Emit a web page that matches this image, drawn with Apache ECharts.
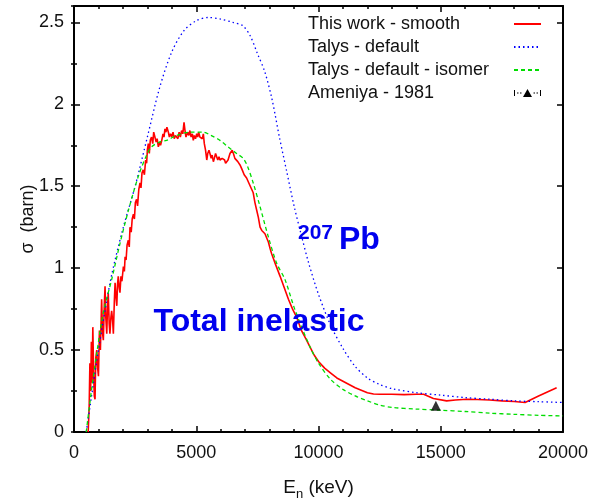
<!DOCTYPE html>
<html><head><meta charset="utf-8">
<script src="https://cdn.jsdelivr.net/npm/echarts@6/dist/echarts.min.js"></script>
<style>html,body{margin:0;padding:0;background:#fff}#c{width:592px;height:501px}</style>
</head><body><div id="c"></div>
<script>
// ---- data ----
const seriesNames = ['This work - smooth', 'Talys - default', 'Talys - default - isomer', 'Ameniya - 1981'];
const xTickValues = [0, 5000, 10000, 15000, 20000];
const yTickValues = [0, 0.5, 1, 1.5, 2, 2.5];

// This work - smooth (red)
const workE = [580,620,650,680,710,740,770,800,830,860,890,930,960,1000,1040,1080,1130,1170,1200,1240,1270,1300,1340,1370,1400,1440,1470,1510,1540,1580,1610,1650,1680,1720,1750,1780,1810,1850,1880,1920,1960,2020,2060,2090,2130,2170,2220,2260,2290,2340,2380,2430,2470,2510,2560,2600,2650,2700,2740,2780,2830,2880,2930,2970,3000,3040,3080,3120,3170,3220,3260,3310,3360,3400,3450,3500,3540,3590,3640,3680,3720,3760,3800,3860,3900,3950,4000,4050,4100,4150,4200,4250,4300,4350,4400,4450,4500,4540,4580,4610,4650,4700,4740,4790,4840,4880,4920,4970,5020,5060,5100,5150,5200,5250,5290,5330,5380,5430,5470,5520,5560,5610,5650,5700,5740,5790,5830,5880,5930,5970,6020,6060,6110,6160,6200,6250,6300,6340,6380,6430,6470,6520,6580,6640,6700,6790,6880,6960,7060,7150,7270,7330,7400,7470,7540,7610,7680,7740,7810,7880,7950,8020,8080,8250,8430,8600,8770,8940,9110,9300,9480,9650,9820,10000,10250,10500,10750,11000,11250,11500,11750,12000,12250,12500,13000,13500,14000,14300,14700,15240,15600,16060,16500,17000,17500,18000,18450,19000,19740];
const workS = [0.00,0.15,0.42,0.25,0.55,0.30,0.64,0.38,0.22,0.20,0.45,0.50,0.40,0.34,0.62,0.50,0.81,0.60,0.56,0.78,0.89,0.70,0.60,0.76,0.85,0.66,0.60,0.70,0.74,0.68,0.60,0.80,0.91,0.82,0.77,0.90,0.95,0.88,0.85,0.95,0.92,1.01,0.98,1.07,1.05,1.14,1.17,1.13,1.25,1.22,1.30,1.33,1.30,1.40,1.42,1.38,1.48,1.52,1.49,1.58,1.60,1.57,1.66,1.64,1.72,1.76,1.70,1.78,1.80,1.76,1.83,1.82,1.77,1.79,1.74,1.77,1.75,1.78,1.82,1.80,1.85,1.83,1.86,1.83,1.80,1.82,1.80,1.83,1.79,1.81,1.82,1.79,1.83,1.80,1.84,1.82,1.89,1.84,1.80,1.80,1.83,1.81,1.84,1.80,1.82,1.78,1.81,1.79,1.82,1.80,1.83,1.80,1.81,1.79,1.82,1.76,1.72,1.66,1.70,1.72,1.70,1.67,1.69,1.65,1.67,1.70,1.69,1.66,1.68,1.66,1.65,1.67,1.68,1.66,1.64,1.63,1.66,1.68,1.70,1.71,1.72,1.70,1.67,1.66,1.65,1.63,1.60,1.57,1.55,1.52,1.48,1.46,1.40,1.355,1.31,1.25,1.23,1.22,1.21,1.20,1.16,1.12,1.09,1.02,0.95,0.88,0.81,0.75,0.70,0.62,0.57,0.52,0.47,0.43,0.39,0.36,0.33,0.31,0.29,0.27,0.255,0.24,0.232,0.23,0.23,0.228,0.23,0.23,0.205,0.19,0.195,0.20,0.198,0.195,0.19,0.186,0.18,0.22,0.27];

// Talys - default (blue dotted)
const talysE = [500,700,1000,1500,2000,2500,3000,3500,4000,4500,5000,5500,6000,6500,6900,7200,7500,7800,8100,8400,8700,9000,9300,9600,10000,10500,11000,11500,12000,12500,13000,14000,15000,16000,17000,18000,19000,20000];
const talysS = [0,0.20,0.50,0.93,1.24,1.50,1.80,2.10,2.32,2.45,2.51,2.53,2.52,2.50,2.48,2.42,2.31,2.20,2.03,1.80,1.59,1.38,1.20,1.03,0.84,0.65,0.51,0.40,0.33,0.29,0.265,0.24,0.225,0.21,0.20,0.19,0.185,0.18];

// Talys - default - isomer (green dashed)
const isoE = [500,720,930,1200,1540,1880,2220,2630,2970,3170,3500,3790,4200,4740,5290,5600,5970,6300,6650,6920,7100,7330,7610,7950,8290,8630,9040,9650,10000,10500,11000,11500,12000,12500,13000,14000,15000,16000,17000,18000,19000,20000];
const isoS = [0,0.26,0.48,0.73,0.93,1.15,1.35,1.56,1.69,1.74,1.77,1.78,1.81,1.83,1.83,1.81,1.78,1.74,1.70,1.67,1.62,1.52,1.375,1.19,1.03,0.93,0.745,0.52,0.42,0.32,0.26,0.22,0.19,0.165,0.15,0.14,0.133,0.125,0.115,0.108,0.102,0.098];

// Ameniya - 1981 (black triangle)
const ameE = [14800];
const ameS = [0.16];

// ---- chart ----
const zip = (a, b) => a.map((v, i) => [v, b[i]]);
const FONT = 'Liberation Sans, Arial, sans-serif';
const chart = echarts.init(document.getElementById('c'), null, {renderer: 'canvas'});

const xBase = {type: 'value', min: 0, max: 20000, interval: 5000, splitLine: {show: false},
  axisLine: {show: true, onZero: false, lineStyle: {color: '#000', width: 2}},
  axisTick: {show: true, inside: true, length: 6, lineStyle: {color: '#000', width: 1.5}},
  minorTick: {show: true, splitNumber: 5, length: 3, lineStyle: {color: '#000', width: 1.5}}};
const yMajor = {type: 'value', min: 0, max: 2.6, interval: 0.5, splitLine: {show: false},
  axisLine: {show: true, onZero: false, lineStyle: {color: '#000', width: 2}},
  axisTick: {show: true, inside: true, length: 6, lineStyle: {color: '#000', width: 1.5}}};
const yMinor = {type: 'value', min: 0, max: 2.6, interval: 0.25, splitLine: {show: false},
  axisLine: {show: false}, axisLabel: {show: false},
  axisTick: {show: true, inside: true, length: 3, lineStyle: {color: '#000', width: 1.5}}};

chart.setOption({
  animation: false,
  backgroundColor: '#fff',
  textStyle: {fontFamily: FONT},
  grid: {left: 74, top: 6, right: 29, bottom: 69, containLabel: false, outerBoundsMode: 'none'},
  legend: {
    orient: 'vertical', left: 308, top: 15, padding: 0, itemGap: 5,
    itemWidth: 27, itemHeight: 9, align: 'right', selectedMode: false,
    itemStyle: {opacity: 0},
    formatter: '{t|{name}}',
    textStyle: {fontFamily: FONT, fontSize: 18, color: '#111',
      rich: {t: {width: 201, align: 'left', fontSize: 18, lineHeight: 18, fontFamily: FONT, color: '#111'}}},
    data: [
      {name: seriesNames[0]}, {name: seriesNames[1]}, {name: seriesNames[2]},
      {name: seriesNames[3], itemStyle: {opacity: 1, color: '#000'},
        icon: 'path://M0,2L1,2L1,8L0,8Z M3,4.5L4.5,4.5L4.5,5.5L3,5.5Z M6,4.5L7.5,4.5L7.5,5.5L6,5.5Z M9,9L13.5,1L18,9Z M19.5,4.5L21,4.5L21,5.5L19.5,5.5Z M22.5,4.5L24,4.5L24,5.5L22.5,5.5Z M26,2L27,2L27,8L26,8Z'}
    ]
  },
  xAxis: [
    Object.assign({}, xBase, {position: 'bottom',
      axisLabel: {show: true, margin: 12, fontSize: 18, color: '#111', fontFamily: FONT,
        customValues: xTickValues, formatter: v => String(v)},
      name: '{e|E}{n|n}{e| (keV)}', nameLocation: 'middle', nameGap: 43,
      nameTextStyle: {rich: {
        e: {fontSize: 19, lineHeight: 26, verticalAlign: 'middle', color: '#111', fontFamily: FONT},
        n: {fontSize: 13, lineHeight: 13, verticalAlign: 'bottom', color: '#111', fontFamily: FONT}}}}),
    Object.assign({}, xBase, {position: 'top', axisLabel: {show: false}})
  ],
  yAxis: [
    Object.assign({}, yMajor, {position: 'left',
      axisLabel: {show: true, margin: 10, fontSize: 18, color: '#111', fontFamily: FONT,
        customValues: yTickValues, formatter: v => String(v)},
      name: 'σ  (barn)', nameLocation: 'middle', nameGap: 37, nameRotate: 90, nameMoveOverlap: false,
      nameTextStyle: {fontSize: 18, color: '#111', fontFamily: FONT}}),
    Object.assign({}, yMajor, {position: 'right', axisLabel: {show: false}}),
    Object.assign({}, yMinor, {position: 'left'}),
    Object.assign({}, yMinor, {position: 'right'})
  ],
  series: [
    {name: seriesNames[0], type: 'line', data: zip(workE, workS), symbol: 'none', smooth: false,
      lineStyle: {color: '#ff0000', width: 1.6}, itemStyle: {color: '#ff0000'}, z: 3},
    {name: seriesNames[1], type: 'line', data: zip(talysE, talysS), symbol: 'none', smooth: 0.3,
      lineStyle: {color: '#0000ff', width: 1.3, type: [1.5, 3]}, itemStyle: {color: '#0000ff'}, z: 4},
    {name: seriesNames[2], type: 'line', data: zip(isoE, isoS), symbol: 'none', smooth: 0.3,
      lineStyle: {color: '#00dd00', width: 1.3, type: [4, 3]}, itemStyle: {color: '#00dd00'}, z: 5},
    {name: seriesNames[3], type: 'scatter', data: zip(ameE, ameS), symbol: 'triangle', symbolSize: [10, 10],
      itemStyle: {color: '#000'}, z: 6}
  ],
  graphic: [
    {type: 'text', x: 259, y: 322, z: 10,
      style: {text: 'Total inelastic', fill: '#0000ee', font: 'bold 32px ' + FONT, align: 'center', verticalAlign: 'middle'}},
    {type: 'text', x: 298, y: 233, z: 10,
      style: {text: '207', fill: '#0000ee', font: 'bold 21px ' + FONT, align: 'left', verticalAlign: 'middle'}},
    {type: 'text', x: 339, y: 240, z: 10,
      style: {text: 'Pb', fill: '#0000ee', font: 'bold 32px ' + FONT, align: 'left', verticalAlign: 'middle'}}
  ]
});
</script>
</body></html>
